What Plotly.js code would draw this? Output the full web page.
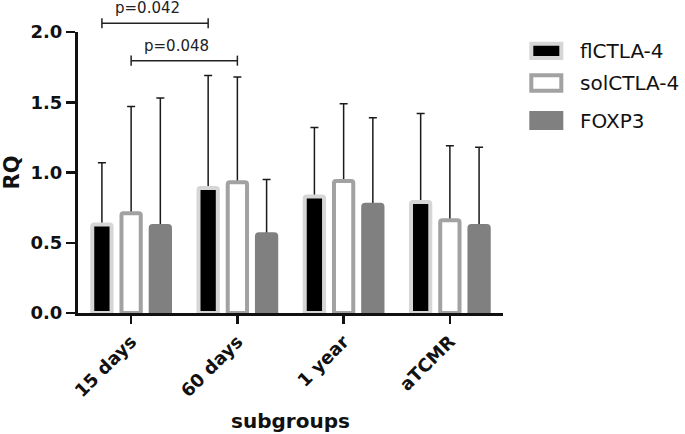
<!DOCTYPE html>
<html>
<head>
<meta charset="utf-8">
<script src="https://cdn.plot.ly/plotly-3.0.1.min.js"></script>
<style>html,body{margin:0;padding:0;background:#fff;}#chart{width:685px;height:434px;}</style>
</head>
<body>
<div id="chart"></div>
<script>
// ---- data ----
const categories = ["15 days", "60 days", "1 year", "aTCMR"];
const seriesNames = ["flCTLA-4", "solCTLA-4", "FOXP3"];
const flMean  = [0.63, 0.89, 0.83, 0.79];
const flSD    = [0.44, 0.80, 0.49, 0.63];
const solMean = [0.71, 0.93, 0.94, 0.66];
const solSD   = [0.76, 0.75, 0.55, 0.53];
const foxMean = [0.62, 0.56, 0.77, 0.62];
const foxSD   = [0.91, 0.39, 0.62, 0.56];
const pLabels = ["p=0.042", "p=0.048"];

// ---- styling ----
const fills = ["#000000", "#ffffff", "#808080"];
const lines = ["#d6d6d6", "#a2a2a2", "#808080"];
const means = [flMean, solMean, foxMean];
const sds = [flSD, solSD, foxSD];
const groups = ["a", "b", "c"];
const FONT = "DejaVu Sans, Arial, sans-serif";

const traces = [];
// error-bar carriers first (transparent bars), so the real bars cover the lower cap
for (let i = 0; i < 3; i++) {
  traces.push({
    type: "bar", x: categories, y: means[i], offsetgroup: groups[i],
    marker: {color: "rgba(0,0,0,0)", line: {width: 0}},
    error_y: {type: "data", symmetric: false, array: sds[i],
              arrayminus: means[i].map(() => 0), color: "#1a1a1a", thickness: 1.5, width: 4},
    showlegend: false, hoverinfo: "skip"
  });
}
for (let i = 0; i < 3; i++) {
  traces.push({
    type: "bar", name: seriesNames[i], x: categories, y: means[i], offsetgroup: groups[i],
    marker: {color: fills[i], line: {color: lines[i], width: 4}, cornerradius: 2},
    showlegend: false
  });
}

// bracket geometry (offset of a bar within its group)
const bargap = 0.175;
const off = (1 - bargap) / 3;
const brackets = [
  {x0: 0 - off, x1: 1 - off, y: 1.031, label: pLabels[0]},
  {x0: 0, x1: 1, y: 0.898, label: pLabels[1]}
];
const shapes = [];
const annotations = [];
const tickH = 0.018;
brackets.forEach(b => {
  const ln = {color: "#222", width: 1.5};
  shapes.push({type: "line", xref: "x", yref: "paper", x0: b.x0, x1: b.x1, y0: b.y, y1: b.y, line: ln});
  shapes.push({type: "line", xref: "x", yref: "paper", x0: b.x0, x1: b.x0, y0: b.y - tickH, y1: b.y + tickH, line: ln});
  shapes.push({type: "line", xref: "x", yref: "paper", x0: b.x1, x1: b.x1, y0: b.y - tickH, y1: b.y + tickH, line: ln});
  annotations.push({xref: "x", yref: "paper", x: (b.x0 + b.x1) / 2, y: b.y, xshift: -8, yshift: 4,
    yanchor: "bottom", showarrow: false, text: b.label,
    font: {family: FONT, size: 15, color: "#222"}});
});

// custom legend
const legY = [[0.9584, 0.9075], [0.8459, 0.7911], [0.7117, 0.6584]];
for (let i = 0; i < 3; i++) {
  shapes.push({type: "rect", xref: "paper", yref: "paper", x0: 1.0666, x1: 1.1372,
    y0: legY[i][1], y1: legY[i][0], fillcolor: fills[i], line: {color: lines[i], width: 4}});
  annotations.push({xref: "paper", yref: "paper", x: 1.1765, y: (legY[i][0] + legY[i][1]) / 2,
    xanchor: "left", yanchor: "middle", showarrow: false, text: seriesNames[i],
    font: {family: FONT, size: 20, color: "#111"}});
}

const layout = {
  width: 685, height: 434,
  margin: {l: 78, r: 182, t: 32, b: 121},
  paper_bgcolor: "#fff", plot_bgcolor: "#fff",
  barmode: "group", bargap: bargap, bargroupgap: 0.34,
  showlegend: false,
  font: {family: FONT, color: "#111"},
  xaxis: {
    type: "category", categoryorder: "array", categoryarray: categories,
    range: [-0.5, 3.5], showgrid: false, zeroline: false,
    showline: true, linecolor: "#111", linewidth: 3,
    ticks: "outside", ticklen: 8, tickwidth: 2.5, tickcolor: "#111",
    tickangle: -45, tickfont: {family: FONT, size: 18, weight: "bold", color: "#111"},
    title: {text: "subgroups", font: {family: FONT, size: 20, weight: "bold", color: "#111"}, standoff: 14}
  },
  yaxis: {
    range: [0, 2], dtick: 0.5, tickformat: ".1f", showgrid: false, zeroline: false,
    showline: true, linecolor: "#111", linewidth: 3,
    ticks: "outside", ticklen: 9, tickwidth: 2.5, tickcolor: "#111",
    tickfont: {family: FONT, size: 18, weight: "bold", color: "#111"},
    title: {text: "RQ", font: {family: FONT, size: 21, weight: "bold", color: "#111"}, standoff: 6}
  },
  shapes: shapes,
  annotations: annotations
};

Plotly.newPlot("chart", traces, layout, {displayModeBar: false, staticPlot: true});
</script>
</body>
</html>
